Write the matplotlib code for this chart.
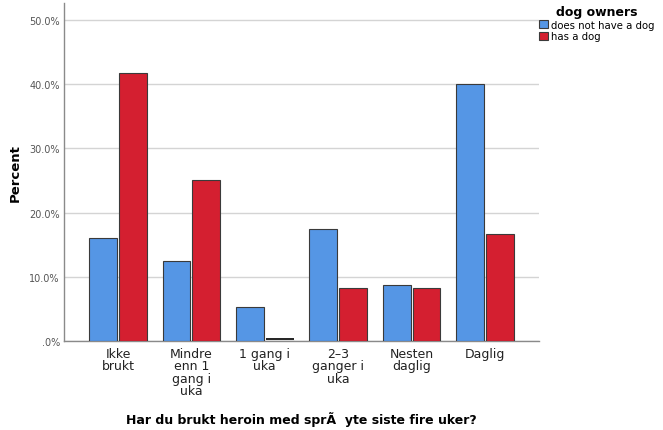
import matplotlib.pyplot as plt
import numpy as np
from matplotlib.ticker import FuncFormatter

categories = ["Ikke\nbrukt", "Mindre\nenn 1\ngang i\nuka", "1 gang i\nuka", "2\u20133\nganger i\nuka", "Nesten\ndaglig", "Daglig"]
no_dog = [16.0, 12.5, 5.3, 17.4, 8.7, 40.0]
has_dog = [41.7, 25.0, 0.0, 8.3, 8.3, 16.7]
series_names = ["does not have a dog", "has a dog"]

fig = plt.figure(figsize=(6.63, 4.31), dpi=100)
ax = fig.add_axes([0.0965, 0.2065, 0.7165, 0.784])

x = np.arange(len(categories))
w = 0.38
off = w / 2 + 0.013
ax.bar(x - off, no_dog, w, color="#5596e5", edgecolor="#3a3a3a", linewidth=0.8, label=series_names[0], zorder=3)
ax.bar(x + off, has_dog, w, color="#d41f30", edgecolor="#3a3a3a", linewidth=0.8, label=series_names[1], zorder=3)

# zero-height bars still show as a dark line
for xi, v in zip(x, has_dog):
    if v == 0:
        ax.hlines(0.25, xi + off - w / 2, xi + off + w / 2, color="#111111", linewidth=1.3, zorder=4)
for xi, v in zip(x, no_dog):
    if v == 0:
        ax.hlines(0.25, xi - off - w / 2, xi - off + w / 2, color="#111111", linewidth=1.3, zorder=4)

ax.set_xlim(-0.736, 5.736)
ax.set_ylim(0, 52.6)
ax.set_yticks([0, 10, 20, 30, 40, 50])
ax.yaxis.set_major_formatter(FuncFormatter(lambda v, p: ".0%" if v == 0 else f"{v:.1f}%"))
ax.grid(axis="y", color="#d4d4d4", linewidth=1, zorder=0)
ax.set_xticks(x)
ax.set_xticklabels(categories, fontsize=9, color="#222222", linespacing=0.95)
ax.tick_params(axis="x", length=0, pad=4)
ax.tick_params(axis="y", length=0, labelsize=7, labelcolor="#555555", pad=3)

for s in ["top", "right"]:
    ax.spines[s].set_visible(False)
for s in ["left", "bottom"]:
    ax.spines[s].set_color("#8a8a8a")
    ax.spines[s].set_linewidth(1)

ax.set_ylabel("Percent", fontsize=9.5, fontweight="bold", labelpad=5)
fig.text(0.455, 0.01, "Har du brukt heroin med sprÃ  yte siste fire uker?", fontsize=9, fontweight="bold", ha="center", va="bottom")

leg = fig.legend(loc="upper left", bbox_to_anchor=(0.807, 0.995), title="dog owners", fontsize=7.3,
                 frameon=False, handlelength=0.9, handleheight=0.9, handletextpad=0.3, labelspacing=0.15,
                 borderaxespad=0, alignment="center")
leg.get_title().set_fontweight("bold")
leg.get_title().set_fontsize(9)

fig.savefig("out.png", dpi=100)
